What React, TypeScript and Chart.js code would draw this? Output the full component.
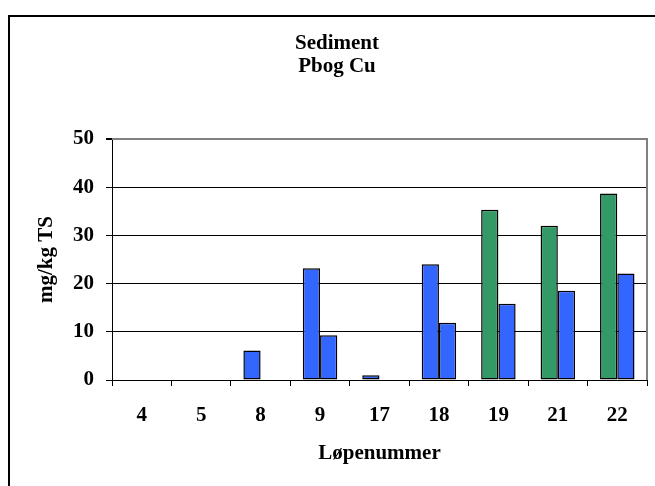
import React, { useEffect, useRef } from "react";
import { Chart, registerables } from "chart.js";

Chart.register(...registerables);

const categories = ["4", "5", "8", "9", "17", "18", "19", "21", "22"];
const pbValues: (number | null)[] = [null, null, 6.1, 23.2, 1.0, 24.0, 35.3, 32.0, 38.7];
const pbColors = ["#3366FF", "#3366FF", "#3366FF", "#3366FF", "#3366FF", "#3366FF", "#339966", "#339966", "#339966"];
const cuValues: (number | null)[] = [null, null, null, 9.3, null, 11.9, 15.8, 18.5, 22.1];
const cuColor = "#3366FF";
const titleLines = ["Sediment", "Pbog Cu"];
const xTitle = "Løpenummer";
const yTitle = "mg/kg TS";
const yMin = 0;
const yMax = 50;
const yStep = 10;

const FONT = "'Liberation Serif', 'Times New Roman', serif";

const framePlugin = {
  id: "frame",
  beforeDraw(chart: any) {
    const { ctx } = chart;
    ctx.save();
    ctx.strokeStyle = "#000";
    ctx.lineWidth = 2;
    ctx.beginPath();
    ctx.moveTo(9, chart.height);
    ctx.lineTo(9, 16);
    ctx.lineTo(chart.width, 16);
    ctx.stroke();
    ctx.restore();
  },
  afterDraw(chart: any) {
    const { ctx, chartArea } = chart;
    ctx.save();
    ctx.strokeStyle = "#808080";
    ctx.lineWidth = 2;
    ctx.beginPath();
    ctx.moveTo(chartArea.left, chartArea.top);
    ctx.lineTo(chartArea.right, chartArea.top);
    ctx.lineTo(chartArea.right, chartArea.bottom);
    ctx.stroke();
    ctx.restore();
  },
};

export default function App() {
  const ref = useRef<HTMLCanvasElement | null>(null);
  useEffect(() => {
    if (!ref.current) return;
    const chart = new Chart(ref.current, {
      type: "bar",
      data: {
        labels: categories,
        datasets: [
          {
            label: "Pb",
            data: pbValues,
            backgroundColor: pbColors,
            borderColor: "#000",
            borderWidth: 1.5,
            borderSkipped: false,
            barPercentage: 1,
            categoryPercentage: 0.58,
          },
          {
            label: "Cu",
            data: cuValues,
            backgroundColor: cuColor,
            borderColor: "#000",
            borderWidth: 1.5,
            borderSkipped: false,
            barPercentage: 1,
            categoryPercentage: 0.58,
          },
        ],
      },
      options: {
        animation: false,
        responsive: false,
        devicePixelRatio: 1,
        layout: { padding: { left: 27, right: 8, top: 16, bottom: 0 } },
        plugins: {
          legend: { display: false },
          tooltip: { enabled: false },
          title: {
            display: true,
            text: titleLines,
            color: "#000",
            font: { family: FONT, size: 21, weight: "bold", lineHeight: 23 / 21 },
            padding: { top: 16, bottom: 61 },
          },
        },
        scales: {
          x: {
            afterFit: (scale: any) => {
              scale.height = 106;
            },
            grid: {
              display: true,
              drawOnChartArea: false,
              drawTicks: true,
              tickLength: 6,
              color: "#000",
              offset: true,
            },
            border: { display: true, color: "#000", width: 1 },
            ticks: {
              color: "#000",
              padding: 17,
              font: { family: FONT, size: 21, weight: "bold" },
              maxRotation: 0,
            },
            title: {
              display: true,
              text: xTitle,
              color: "#000",
              font: { family: FONT, size: 21, weight: "bold" },
              padding: { top: 0, bottom: 20 },
            },
          },
          y: {
            min: yMin,
            max: yMax,
            afterFit: (scale: any) => {
              scale.width = 85;
            },
            grid: {
              color: (ctx: any) => (ctx.tick && ctx.tick.value === yMax ? "#808080" : "#000"),
              lineWidth: (ctx: any) => (ctx.tick && ctx.tick.value === yMax ? 2 : 1),
              tickColor: "#000",
              tickLength: 6,
              drawTicks: true,
            },
            border: { display: true, color: "#000", width: 1 },
            ticks: {
              stepSize: yStep,
              color: "#000",
              padding: 12,
              font: { family: FONT, size: 21, weight: "bold" },
            },
            title: {
              display: true,
              text: yTitle,
              color: "#000",
              font: { family: FONT, size: 21, weight: "bold" },
              padding: { top: 7, bottom: 0 },
            },
          },
        },
      },
      plugins: [framePlugin],
    });
    return () => chart.destroy();
  }, []);
  return (
    <div style={{ position: "fixed", left: 0, top: 0, width: 655, height: 486, background: "#fff" }}>
      <canvas ref={ref} width={655} height={486} style={{ display: "block" }} />
    </div>
  );
}
